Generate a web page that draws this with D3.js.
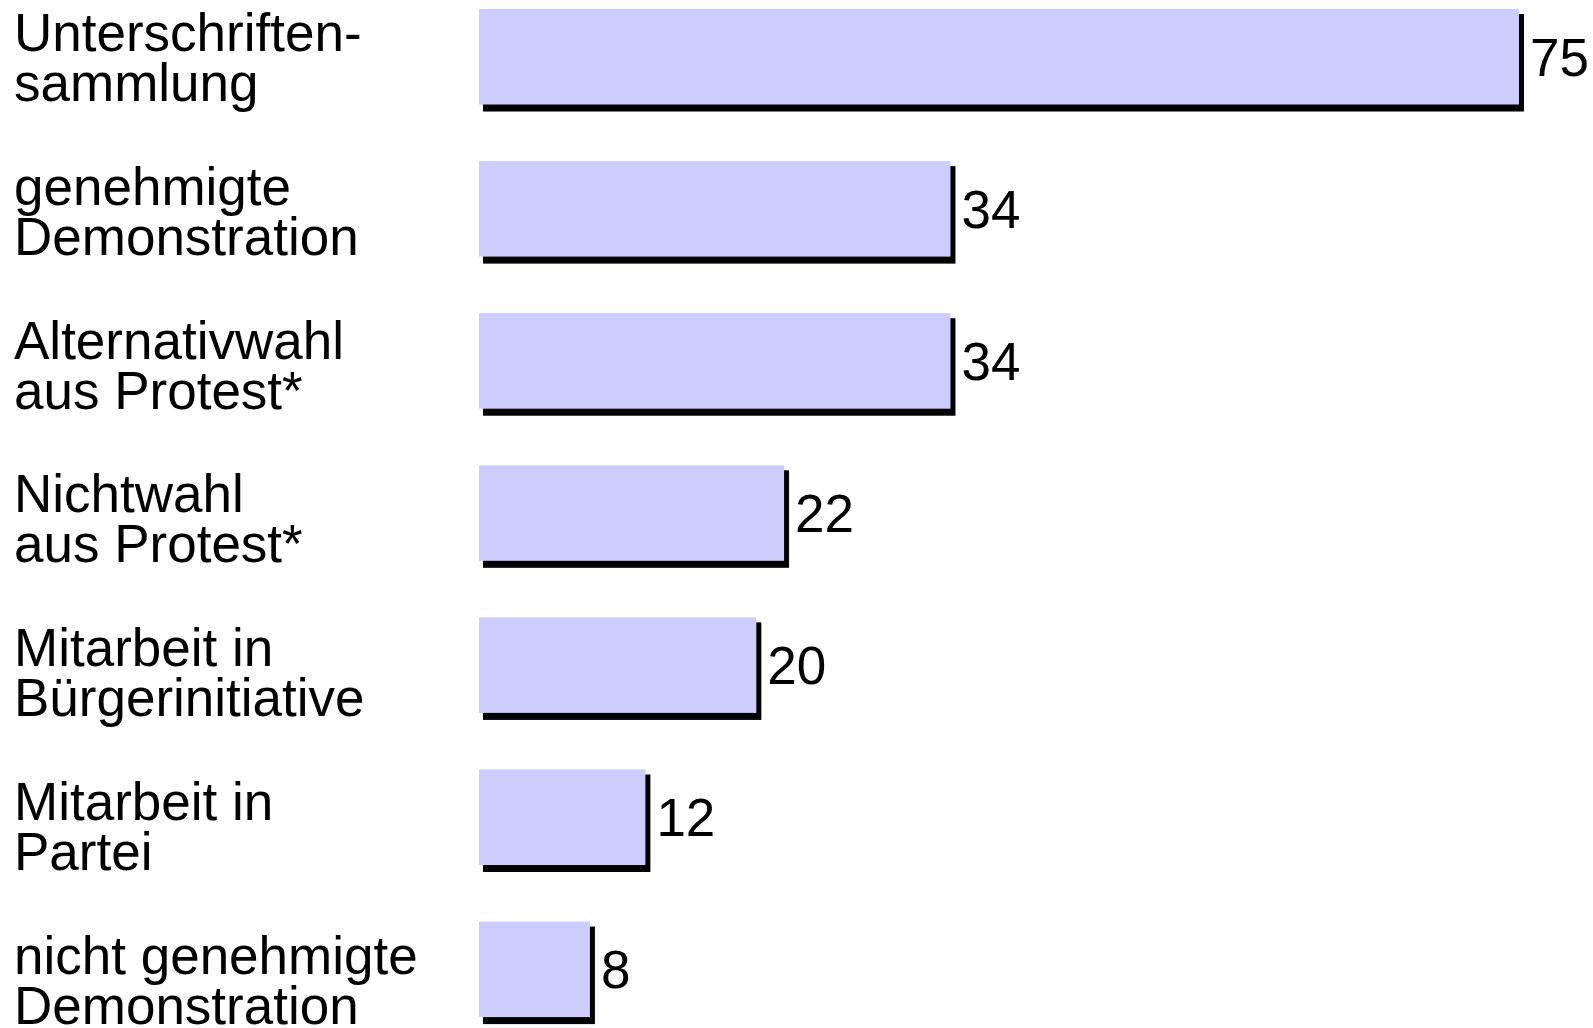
<!DOCTYPE html>
<html>
<head>
<meta charset="utf-8">
<script src="https://cdn.jsdelivr.net/npm/d3@7"></script>
<style>
  html, body { margin: 0; padding: 0; background: #fff; }
  svg { display: block; }
  text { font-family: "Liberation Sans", Arial, sans-serif; fill: #000; }
</style>
</head>
<body>
<svg id="chart" width="1593" height="1028"></svg>
<script>
const categories = [
  "Unterschriften-\nsammlung",
  "genehmigte\nDemonstration",
  "Alternativwahl\naus Protest*",
  "Nichtwahl\naus Protest*",
  "Mitarbeit in\nBürgerinitiative",
  "Mitarbeit in\nPartei",
  "nicht genehmigte\nDemonstration"
];
const values = [75, 34, 34, 22, 20, 12, 8];

const svg = d3.select("#chart");
const x0 = 479;
const x = d3.scaleLinear().domain([0, 75]).range([0, 1040]);
const y = d3.scaleBand().domain(categories).range([9, 1017.1]).paddingInner(0.372).paddingOuter(0);
// label baselines (first line) positioned on their own point scale
const yl = d3.scalePoint().domain(categories).range([51, 973.5]);

const data = categories.map((c, i) => ({ c, v: values[i] }));

const g = svg.append("g");
const rows = g.selectAll("g.row").data(data).join("g").attr("class", "row");

// shadow
rows.append("rect")
  .attr("x", d => x0 + 4)
  .attr("y", d => y(d.c) + 5)
  .attr("width", d => x(d.v) + 1)
  .attr("height", y.bandwidth() + 2)
  .attr("fill", "#000");

// bar
rows.append("rect")
  .attr("x", x0)
  .attr("y", d => y(d.c))
  .attr("width", d => x(d.v))
  .attr("height", y.bandwidth())
  .attr("fill", "#CCCCFF");

// value labels
rows.append("text")
  .attr("x", d => x0 + x(d.v) + 11)
  .attr("y", d => y(d.c) + y.bandwidth() / 2 + 19)
  .attr("font-size", 53)
  .text(d => d.v);

// category labels
rows.each(function(d) {
  const lines = d.c.split("\n");
  const t = d3.select(this).append("text")
    .attr("x", 14)
    .attr("y", yl(d.c))
    .attr("font-size", 53);
  lines.forEach((ln, i) => {
    t.append("tspan").attr("x", 14).attr("dy", i === 0 ? 0 : 50).text(ln);
  });
});
</script>
</body>
</html>
